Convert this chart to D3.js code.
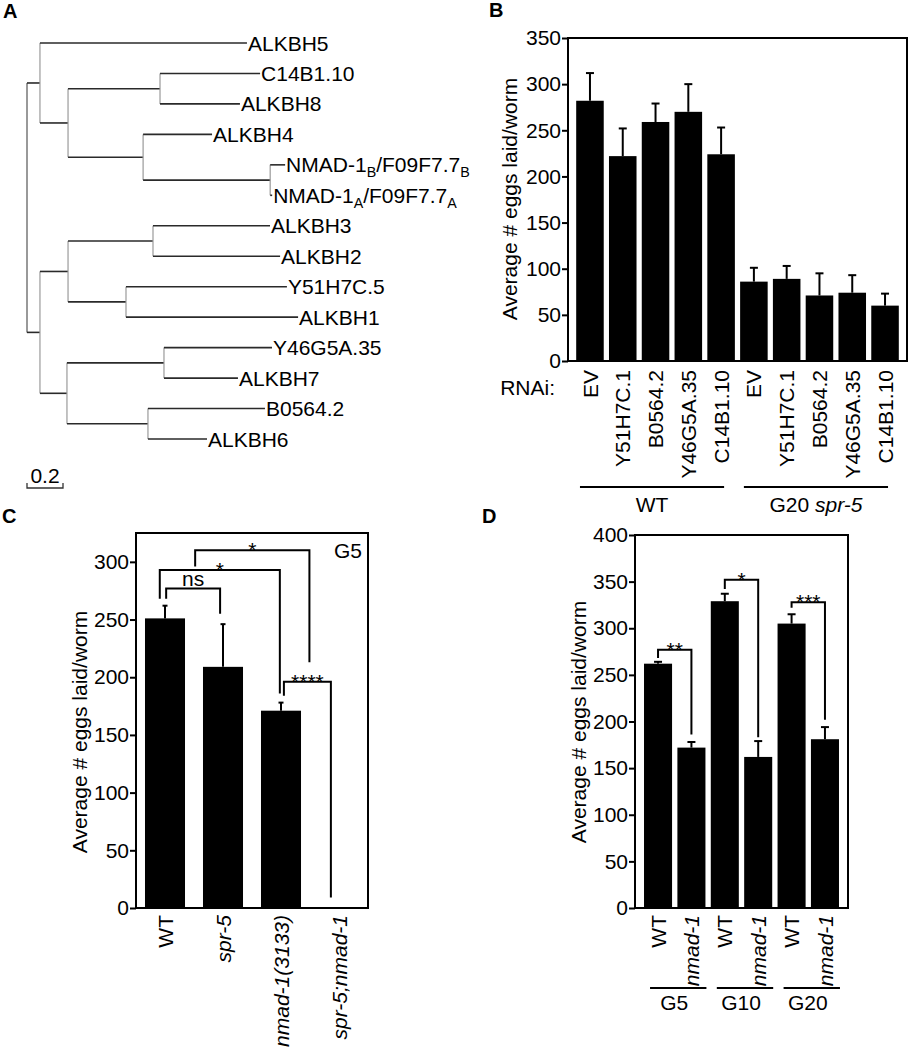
<!DOCTYPE html>
<html><head><meta charset="utf-8">
<script src="https://cdn.jsdelivr.net/npm/d3@7"></script>
<style>
body{margin:0;background:#fff}
text{font-family:"Liberation Sans",Arial,Helvetica,sans-serif;fill:#000}
</style>
</head><body>
<svg id="fig" width="912" height="1050"></svg>
<script>
// ===================== DATA =====================
// Panel A: phylogenetic tree (ids, parents, branch lengths)
const treeIds = ["root","a","ALKBH5","b","c","C14B1.10","ALKBH8","d","ALKBH4","e","NMAD-1_B/F09F7.7_B","NMAD-1_A/F09F7.7_A",
  "f","g","h","ALKBH3","ALKBH2","i","Y51H7C.5","ALKBH1","j","k","Y46G5A.35","ALKBH7","l","B0564.2","ALKBH6"];
const treeParents = ["","root","a","a","b","c","c","b","d","d","e","e",
  "root","f","g","h","h","g","i","i","f","j","k","k","j","l","l"];
const treeLengths = [0,0.072,1.15,0.156,0.511,0.556,0.444,0.417,0.383,0.706,0.083,0.011,
  0.072,0.156,0.472,0.65,0.706,0.322,0.894,0.956,0.15,0.539,0.6,0.411,0.45,0.65,0.328];
const scaleBarValue = 0.2;

// Panel B
const bCats = ["EV","Y51H7C.1","B0564.2","Y46G5A.35","C14B1.10","EV","Y51H7C.1","B0564.2","Y46G5A.35","C14B1.10"];
const bVals = [282,222,259,270,224,86,89,71,74,60];
const bErrs = [30,30,20,30,29,15,14,24,19,13];
const bTicks = [0,50,100,150,200,250,300,350];
const bGroups = [{label:["WT"], first:0, last:4},{label:["G20 ","spr-5"], first:5, last:9}];

// Panel C
const cCats = ["WT","spr-5","nmad-1(3133)","spr-5;nmad-1"];
const cItalic = [false,true,true,true];
const cVals = [251,209,171,0];
const cErrs = [11,37,7,0];
const cTicks = [0,50,100,150,200,250,300];
const cBrackets = [
  {from:0.02, to:0.95, top:277, left:268, right:255, label:"ns"},
  {from:-0.09, to:1.98, top:293, left:268, right:186, label:"*"},
  {from:0.52, to:2.49, top:310, left:296, right:213, label:"*"},
  {from:2.05, to:2.86, top:196, left:184, right:9, label:"****"}
];

// Panel D
const dCats = ["WT","nmad-1","WT","nmad-1","WT","nmad-1"];
const dItalic = [false,true,false,true,false,true];
const dVals = [262,172,329,162,305,181];
const dErrs = [2,6,8,17,10,13];
const dTicks = [0,50,100,150,200,250,300,350,400];
const dGroups = [{label:["G5"], first:0, last:1},{label:["G10"], first:2, last:3},{label:["G20"], first:4, last:5}];
const dBrackets = [
  {from:0, to:1, top:277, left:268, right:186, label:"**"},
  {from:2, to:3, top:352, left:342, right:183, label:"*"},
  {from:4, to:5, top:328, left:322, right:202, label:"***"}
];

// ===================== DRAW =====================
const FS = 21;
const svg = d3.select("#fig");

// panel letters
[["A",3,18],["B",489,17],["C",2,523],["D",482,523]].forEach(([t,x,y])=>{
  svg.append("text").attr("x",x).attr("y",y).attr("font-size",20).attr("font-weight","bold").text(t);
});

// ---------- Panel A ----------
(function(){
  const g = svg.append("g");
  const root = d3.stratify().id(i=>treeIds[i]).parentId(i=>treeParents[i]||null)(d3.range(treeIds.length));
  root.eachBefore(n=>{ n.dist = n.parent ? n.parent.dist + treeLengths[n.data] : 0; });
  const nLeaves = root.leaves().length;
  const leafY = d3.scaleLinear().domain([0,nLeaves-1]).range([43,439]);
  const tx = d3.scaleLinear().domain([0,1]).range([27,207]);
  let li = 0;
  root.eachAfter(n=>{
    n.yy = n.children ? (n.children[0].yy + n.children[n.children.length-1].yy)/2 : leafY(li++);
  });
  root.descendants().forEach(n=>{
    if(n.parent){
      g.append("line").attr("x1",tx(n.parent.dist)).attr("x2",tx(n.dist))
        .attr("y1",n.yy).attr("y2",n.yy).attr("stroke","#2a2a2a").attr("stroke-width",1.6);
    }
    if(n.children){
      g.append("line").attr("x1",tx(n.dist)).attr("x2",tx(n.dist))
        .attr("y1",n.children[0].yy).attr("y2",n.children[n.children.length-1].yy)
        .attr("stroke",n.parent? "#9a9a9a" : "#555").attr("stroke-width",1.2);
    }
    if(!n.children){
      const t = g.append("text").attr("x",tx(n.dist)+1).attr("y",n.yy).attr("dy","0.36em").attr("font-size",FS);
      const parts = n.id.split(/_(.)/);
      parts.forEach((p,k)=>{
        if(!p) return;
        const s = t.append("tspan").text(p);
        if(k%2===1){ s.attr("dy",5).attr("font-size",FS*0.68); }
        else if(k>0){ s.attr("dy",-5); }
      });
    }
  });
  // scale bar
  const sy = 488;
  g.append("path").attr("d",`M${tx(0)},${sy-5}V${sy}H${tx(scaleBarValue)}V${sy-5}`)
    .attr("fill","none").attr("stroke","#333").attr("stroke-width",1.3);
  g.append("text").attr("x",(tx(0)+tx(scaleBarValue))/2).attr("y",483).attr("text-anchor","middle")
    .attr("font-size",FS).text(String(scaleBarValue));
})();

// ---------- generic bar panel ----------
function barPanel(c){
  const g = svg.append("g");
  const n = c.vals.length;
  const x = d3.scaleBand().domain(d3.range(n)).range([c.x0,c.x1]).paddingInner(c.pi).paddingOuter(c.po);
  const y = d3.scaleLinear().domain([0,c.yMax]).range([c.y1,c.y0]);
  const bw = x.bandwidth();
  const cx = i=>x(i)+bw/2;
  const xi = d3.scaleLinear().domain([0,n-1]).range([cx(0),cx(n-1)]);
  // bars
  g.selectAll("rect.bar").data(c.vals).join("rect").attr("class","bar")
    .attr("x",(d,i)=>x(i)).attr("y",d=>y(d)).attr("width",bw).attr("height",d=>c.y1-y(d)).attr("fill","#000");
  // error bars
  c.vals.forEach((v,i)=>{
    const e = c.errs[i]; if(!e) return;
    g.append("line").attr("x1",cx(i)).attr("x2",cx(i)).attr("y1",y(v)).attr("y2",y(v+e)).attr("stroke","#000").attr("stroke-width",2);
    g.append("line").attr("x1",cx(i)-c.capW/2).attr("x2",cx(i)+c.capW/2).attr("y1",y(v+e)).attr("y2",y(v+e)).attr("stroke","#000").attr("stroke-width",2);
  });
  // axis
  const ax = g.append("g").attr("transform",`translate(${c.x0},0)`)
    .call(d3.axisLeft(y).tickValues(c.ticks).tickSize(6).tickPadding(1));
  ax.select(".domain").remove();
  ax.selectAll(".tick line").attr("stroke","#000").attr("stroke-width",2);
  ax.selectAll(".tick text").attr("font-size",FS).attr("font-family","Liberation Sans, Arial, sans-serif").attr("fill","#000");
  // frame
  g.append("rect").attr("x",c.x0).attr("y",c.y0).attr("width",c.x1-c.x0).attr("height",c.y1-c.y0)
    .attr("fill","none").attr("stroke","#000").attr("stroke-width",2);
  // y label
  g.append("text").attr("transform",`translate(${c.ylabX},${c.ylabY}) rotate(-90)`).attr("text-anchor","middle")
    .attr("font-size",FS).text("Average # eggs laid/worm");
  // x labels
  c.cats.forEach((t,i)=>{
    g.append("text").attr("transform",`translate(${cx(i)},${c.y1+c.xlabOff}) rotate(-90)`)
      .attr("text-anchor","end").attr("dy","0.36em").attr("font-size",FS)
      .attr("font-style",c.italic && c.italic[i] ? "italic":"normal").text(t);
  });
  // groups
  (c.groups||[]).forEach(gr=>{
    const xa = cx(gr.first)+c.grpL, xb = cx(gr.last)+c.grpR;
    g.append("line").attr("x1",xa).attr("x2",xb).attr("y1",c.grpLineY).attr("y2",c.grpLineY).attr("stroke","#000").attr("stroke-width",2);
    const t = g.append("text").attr("x",(xa+xb)/2 + (c.grpDx||0)).attr("y",c.grpTextY).attr("text-anchor","middle").attr("font-size",FS);
    gr.label.forEach((p,k)=>t.append("tspan").attr("font-style",k===1?"italic":"normal").text(p));
  });
  // brackets
  (c.brackets||[]).forEach(b=>{
    const xa = xi(b.from), xb = xi(b.to);
    g.append("path").attr("d",`M${xa},${y(b.left)}V${y(b.top)}H${xb}V${y(b.right)}`)
      .attr("fill","none").attr("stroke","#000").attr("stroke-width",2);
    const star = b.label.indexOf("*")>=0;
    g.append("text").attr("x",(xa+xb)/2).attr("y",star ? y(b.top)+7 : y(b.top)-2)
      .attr("text-anchor","middle").attr("font-size",FS).text(b.label);
  });
  return {g,x,y,cx};
}

// ---------- Panel B ----------
const pB = barPanel({x0:568,x1:907,y0:38,y1:361,yMax:350,ticks:bTicks,cats:bCats,vals:bVals,errs:bErrs,
  pi:0.16,po:0.25,capW:8,ylabX:517,ylabY:199,xlabOff:9,
  groups:bGroups,grpL:-10,grpR:3,grpLineY:487,grpTextY:512});
svg.append("text").attr("x",555).attr("y",395).attr("text-anchor","end").attr("font-size",FS).text("RNAi:");

// ---------- Panel C ----------
const pC = barPanel({x0:136,x1:368,y0:533,y1:908,yMax:325,ticks:cTicks,cats:cCats,italic:cItalic,vals:cVals,errs:cErrs,
  pi:0.31,po:0.155,capW:5,ylabX:87,ylabY:732,xlabOff:7,brackets:cBrackets});
svg.append("text").attr("x",362).attr("y",558).attr("text-anchor","end").attr("font-size",FS).text("G5");

// ---------- Panel D ----------
const pD = barPanel({x0:635,x1:848,y0:535,y1:908,yMax:400,ticks:dTicks,cats:dCats,italic:dItalic,vals:dVals,errs:dErrs,
  pi:0.16,po:0.27,capW:8,ylabX:586,ylabY:722,xlabOff:7,brackets:dBrackets,
  groups:dGroups,grpL:-8,grpR:15,grpLineY:988,grpTextY:1010,grpDx:-4});
</script>
</body></html>
